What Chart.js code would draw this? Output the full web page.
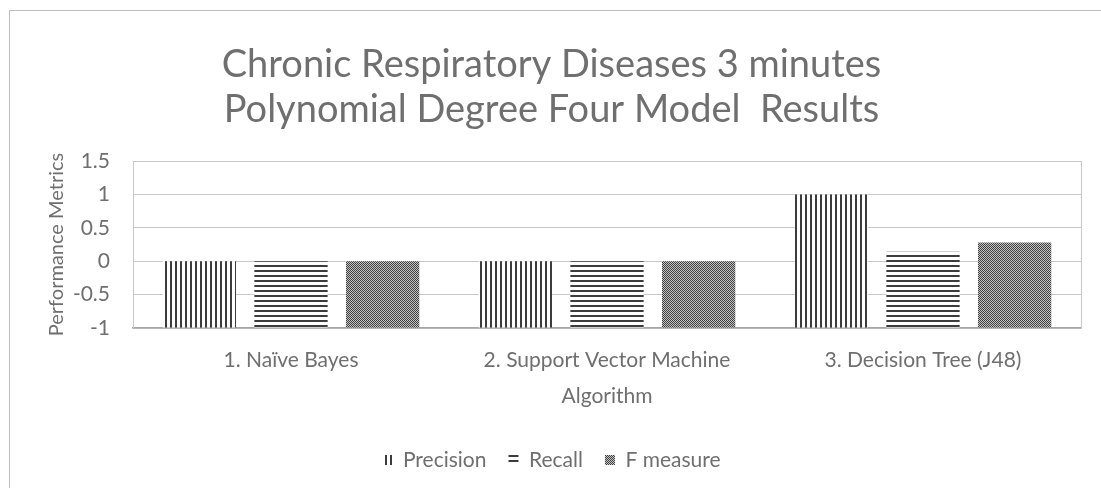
<!DOCTYPE html>
<html>
<head>
<meta charset="utf-8">
<script src="https://cdn.jsdelivr.net/npm/chart.js@4.4.1/dist/chart.umd.min.js"></script>
<style>
  html, body { margin: 0; padding: 0; background: #fff; overflow: hidden; }
  #frame { position: absolute; left: 9px; top: 10px; width: 1200px; height: 600px; border: 1px solid #bfbfbf; }
  #wrap { position: absolute; left: 0; top: 0; width: 1101px; height: 488px; }
</style>
</head>
<body>
<div id="frame"></div>
<div id="wrap"><canvas id="covyChart" width="1101" height="488"></canvas></div>
<script>
const algorithms = ['1. Naïve Bayes', '2. Support Vector Machine', '3. Decision Tree (J48)'];
const precision = [0, 0, 1];
const recall = [0, 0, 0.14];
const fMeasure = [0, 0, 0.28];
const seriesNames = ['Precision', 'Recall', 'F measure'];
const yMin = -1, yMax = 1.5, yStep = 0.5;

const textColor = '#6f6f6f';
const fontFamily = 'Lato, "Open Sans", sans-serif';

// hatch patterns like the excel fills
const makePattern = (w, h, draw) => {
  let c = document.createElement('canvas');
  c.width = w; c.height = h;
  let g = c.getContext('2d');
  g.fillStyle = '#ffffff';
  g.fillRect(0, 0, w, h);
  draw(g);
  return c.getContext('2d').createPattern(c, 'repeat');
};

const vertLines = makePattern(5, 5, (g) => { g.fillStyle = '#3c3c3c'; g.fillRect(0, 0, 2, 5); });
const horzLines = makePattern(5, 5, (g) => { g.fillStyle = '#3c3c3c'; g.fillRect(0, 0, 5, 2); });
const checker = makePattern(2, 2, (g) => {
  g.fillStyle = '#c4c4c4'; g.fillRect(0, 0, 2, 2);
  g.fillStyle = '#404040'; g.fillRect(0, 0, 1, 1); g.fillRect(1, 1, 1, 1);
});

// side lines of the plot area
const plotBox = {
  id: 'plotBox',
  beforeDatasetsDraw(chart) {
    const {ctx, chartArea: a} = chart;
    ctx.save();
    ctx.strokeStyle = '#c8c8c8';
    ctx.lineWidth = 1;
    ctx.beginPath();
    ctx.moveTo(Math.round(a.left) + 0.5, a.top);
    ctx.lineTo(Math.round(a.left) + 0.5, a.bottom);
    ctx.moveTo(Math.round(a.right) + 0.5, a.top);
    ctx.lineTo(Math.round(a.right) + 0.5, a.bottom);
    ctx.stroke();
    ctx.restore();
  }
};

var ctx = document.getElementById('covyChart').getContext('2d');

var covyChart = new Chart(ctx, {
  type: 'bar',
  data: {
    labels: algorithms,
    datasets: [
      { label: seriesNames[0], data: precision, backgroundColor: vertLines, borderWidth: 0, base: yMin },
      { label: seriesNames[1], data: recall, backgroundColor: horzLines, borderWidth: 0, base: yMin },
      { label: seriesNames[2], data: fMeasure, backgroundColor: checker, borderWidth: 0, base: yMin }
    ]
  },
  options: {
    responsive: false,
    animation: false,
    events: [],
    layout: { padding: { left: 22, right: 20, top: 0, bottom: 7.5 } },
    datasets: { bar: { categoryPercentage: 0.87, barPercentage: 0.8 } },
    scales: {
      x: {
        grid: { display: false },
        border: { display: true, color: '#a6a6a6', width: 1.5 },
        ticks: { color: textColor, padding: 11.4, font: { family: fontFamily, size: 21 } },
        title: { display: true, text: 'Algorithm', color: textColor, padding: { top: 0, bottom: 18.9 }, font: { family: fontFamily, size: 21 } },
        afterFit: (scale) => { scale.height = 99.5; }
      },
      y: {
        min: yMin,
        max: yMax,
        ticks: {
          stepSize: yStep,
          color: textColor,
          padding: 23,
          font: { family: fontFamily, size: 21 },
          callback: (v) => String(v)
        },
        grid: { color: '#c8c8c8', drawTicks: false },
        border: { display: false },
        title: { display: true, text: 'Performance Metrics', color: textColor, padding: { top: 23, bottom: 0 }, font: { family: fontFamily, size: 20 } },
        afterFit: (scale) => { scale.width = 111; }
      }
    },
    plugins: {
      title: {
        display: true,
        text: ['Chronic Respiratory Diseases 3 minutes', 'Polynomial Degree Four Model  Results'],
        color: textColor,
        padding: { top: 42.5, bottom: 28.5 },
        font: { family: fontFamily, size: 38, weight: 'normal', lineHeight: 45 / 38 }
      },
      legend: {
        display: true,
        position: 'bottom',
        labels: {
          boxWidth: 10,
          boxHeight: 10,
          padding: 22,
          color: textColor,
          font: { family: fontFamily, size: 21 }
        }
      },
      tooltip: { enabled: false }
    }
  },
  plugins: [plotBox]
});
</script>
</body>
</html>
